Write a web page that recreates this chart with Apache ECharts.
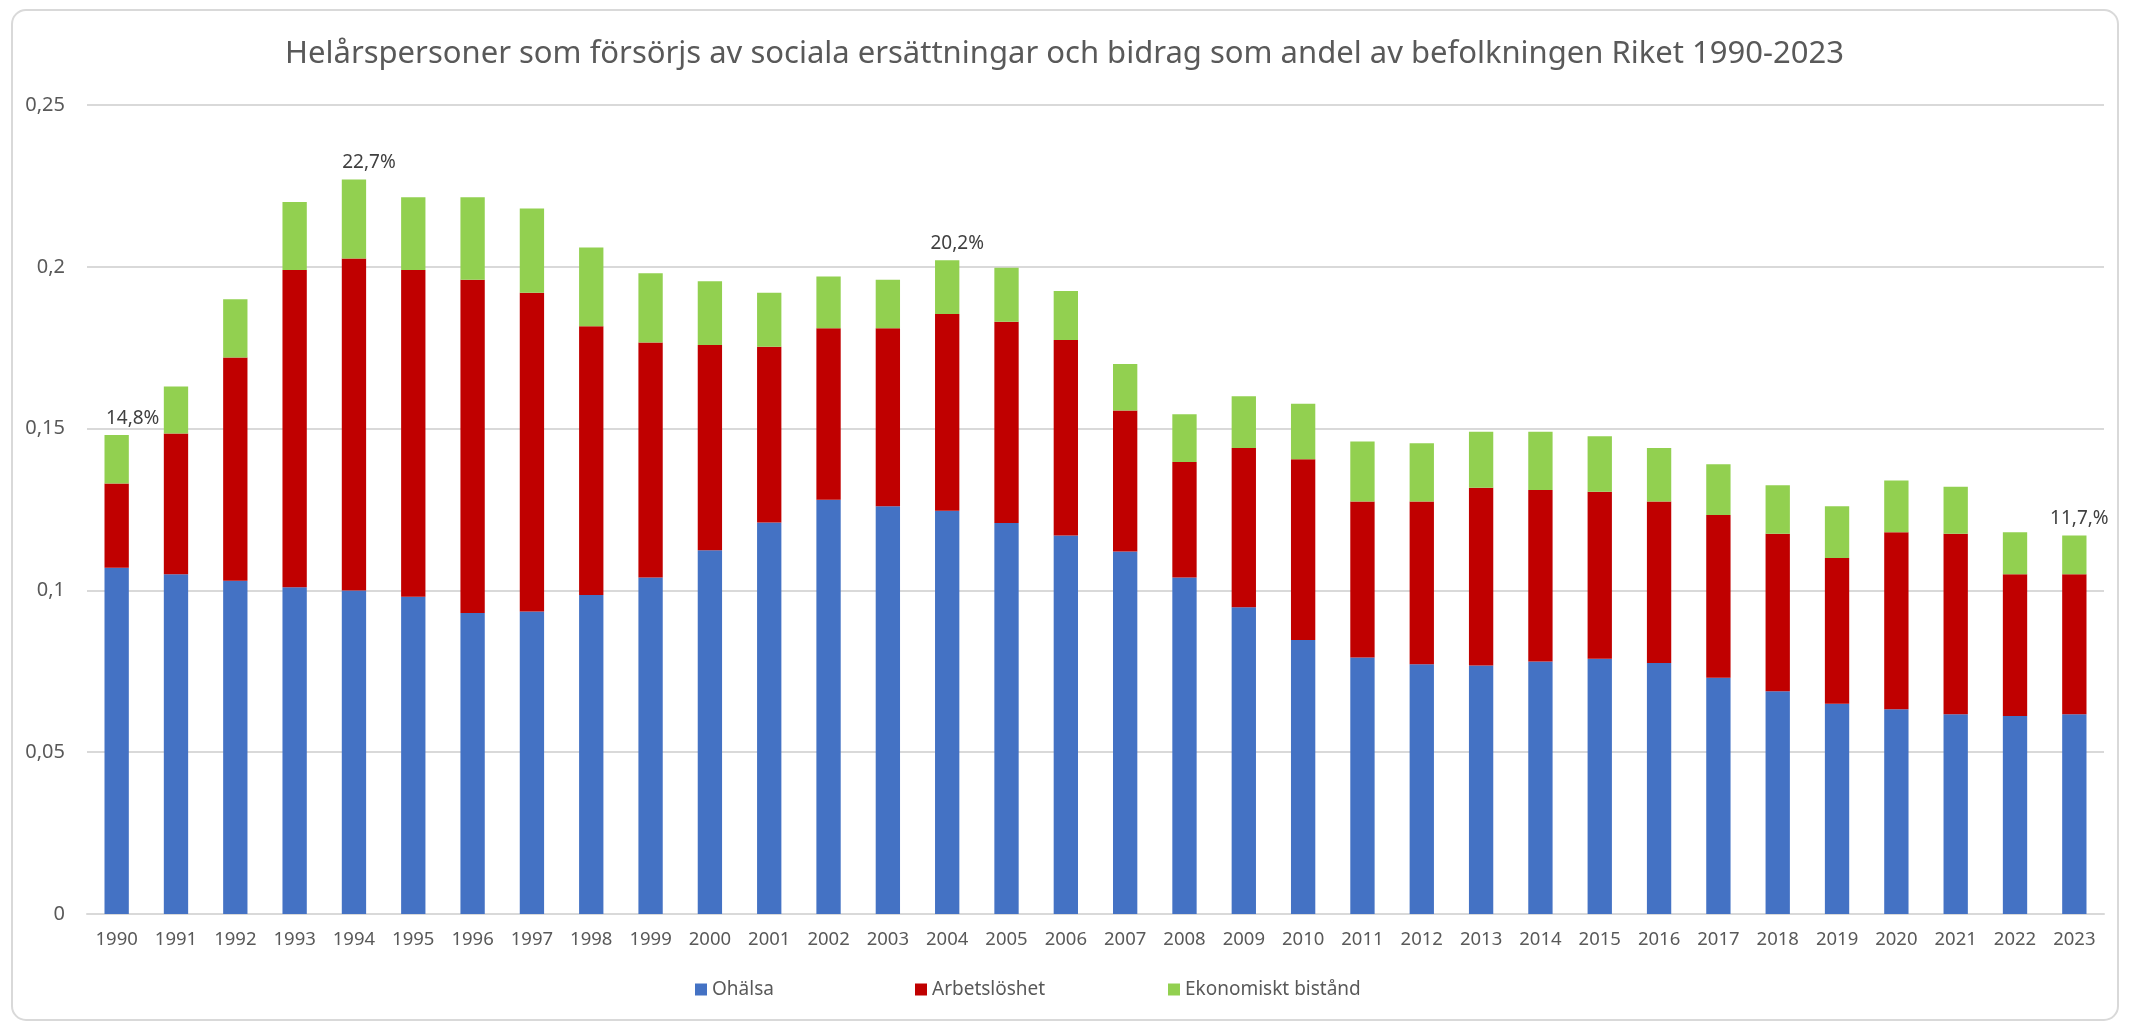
<!DOCTYPE html>
<html>
<head>
<meta charset="utf-8">
<title>Helårspersoner</title>
<script src="https://cdn.jsdelivr.net/npm/echarts@6/dist/echarts.min.js"></script>
<style>
  html, body { margin: 0; padding: 0; background: #fff; }
  #barChart { width: 2129px; height: 1031px; }
</style>
</head>
<body>
<div id="barChart"></div>
<script>
// data
var years = ['1990', '1991', '1992', '1993', '1994', '1995', '1996', '1997', '1998', '1999',
  '2000', '2001', '2002', '2003', '2004', '2005', '2006', '2007', '2008', '2009',
  '2010', '2011', '2012', '2013', '2014', '2015', '2016', '2017', '2018', '2019',
  '2020', '2021', '2022', '2023']
var ohalsa = [0.107, 0.105, 0.103, 0.101, 0.100, 0.098, 0.093, 0.0935, 0.0986, 0.104,
  0.1124, 0.121, 0.128, 0.126, 0.1246, 0.1208, 0.117, 0.112, 0.104, 0.0948,
  0.0847, 0.0793, 0.0772, 0.0768, 0.078, 0.0789, 0.0776, 0.073, 0.0688, 0.065,
  0.0633, 0.0617, 0.0612, 0.0617]
var arbetsloshet = [0.026, 0.0435, 0.069, 0.098, 0.1026, 0.101, 0.103, 0.0985, 0.083, 0.0726,
  0.0634, 0.0543, 0.053, 0.055, 0.0608, 0.0622, 0.0604, 0.0436, 0.0357, 0.0492,
  0.0558, 0.0482, 0.0503, 0.0549, 0.053, 0.0516, 0.0499, 0.0503, 0.0487, 0.045,
  0.0547, 0.0558, 0.0438, 0.0433]
var bistand = [0.015, 0.0145, 0.018, 0.021, 0.0244, 0.0225, 0.0255, 0.026, 0.0244, 0.0214,
  0.0197, 0.0167, 0.016, 0.015, 0.0166, 0.0167, 0.0151, 0.0144, 0.0147, 0.016,
  0.0172, 0.0185, 0.018, 0.0173, 0.018, 0.0171, 0.0165, 0.0157, 0.015, 0.016,
  0.016, 0.0145, 0.013, 0.012]
// text boxes above some bars
var labelYears = ['1990', '1994', '2004', '2023']
var labelTexts = ['14,8%', '22,7%', '20,2%', '11,7,%']
var labelShift = [16, 15, 10, 5]

var textColor = '#595959'
var font = 'Noto Sans'

var barChart = echarts.init(document.getElementById('barChart'))

// green series gets the label on chosen years only
var bistandData = bistand.map(function (v, i) {
  var k = labelYears.indexOf(years[i])
  if (k < 0) return v
  return {
    value: v,
    label: {
      show: true,
      position: 'top',
      distance: 7,
      offset: [labelShift[k], 0],
      formatter: labelTexts[k],
      color: '#404040',
      fontSize: 19,
      fontFamily: font
    }
  }
})

var legendText = { color: textColor, fontSize: 19, fontFamily: font }

var option = {
  backgroundColor: '#fff',
  animation: false,
  title: {
    text: 'Helårspersoner som försörjs av sociala ersättningar och bidrag som andel av befolkningen Riket 1990-2023',
    left: 'center',
    top: 34,
    textStyle: {
      color: textColor,
      fontSize: 31,
      fontWeight: 'normal',
      fontFamily: font
    }
  },
  graphic: [
    {
      type: 'rect',
      shape: { x: 12, y: 10, width: 2106, height: 1010, r: 14 },
      style: { fill: 'none', stroke: '#d9d9d9', lineWidth: 2 },
      silent: true
    }
  ],
  legend: [
    {
      data: ['Ohälsa'],
      left: 690,
      top: 975,
      itemWidth: 12,
      itemHeight: 12,
      icon: 'rect',
      textStyle: legendText
    },
    {
      data: ['Arbetslöshet'],
      left: 910,
      top: 975,
      itemWidth: 12,
      itemHeight: 12,
      icon: 'rect',
      textStyle: legendText
    },
    {
      data: ['Ekonomiskt bistånd'],
      left: 1163,
      top: 975,
      itemWidth: 12,
      itemHeight: 12,
      icon: 'rect',
      textStyle: legendText
    }
  ],
  grid: {
    left: 87,
    right: 25,
    top: 105,
    bottom: 117
  },
  xAxis: {
    type: 'category',
    data: years,
    axisLine: { lineStyle: { color: '#d9d9d9', width: 2 } },
    axisTick: { show: false },
    axisLabel: {
      color: textColor,
      fontSize: 18.5,
      fontFamily: font,
      interval: 0,
      margin: 16
    }
  },
  yAxis: {
    type: 'value',
    min: 0,
    max: 0.25,
    interval: 0.05,
    axisLine: { show: false },
    axisTick: { show: false },
    splitLine: { lineStyle: { color: '#d9d9d9', width: 2 } },
    axisLabel: {
      color: textColor,
      fontSize: 20,
      fontFamily: font,
      margin: 22,
      formatter: function (v) {
        return String(Math.round(v * 100) / 100).replace('.', ',')
      }
    }
  },
  series: [
    {
      name: 'Ohälsa',
      type: 'bar',
      stack: 'total',
      barWidth: '41%',
      itemStyle: { color: '#4472c4' },
      data: ohalsa
    },
    {
      name: 'Arbetslöshet',
      type: 'bar',
      stack: 'total',
      itemStyle: { color: '#c00000' },
      data: arbetsloshet
    },
    {
      name: 'Ekonomiskt bistånd',
      type: 'bar',
      stack: 'total',
      itemStyle: { color: '#92d050' },
      data: bistandData
    }
  ]
}
barChart.setOption(option)
</script>
</body>
</html>
